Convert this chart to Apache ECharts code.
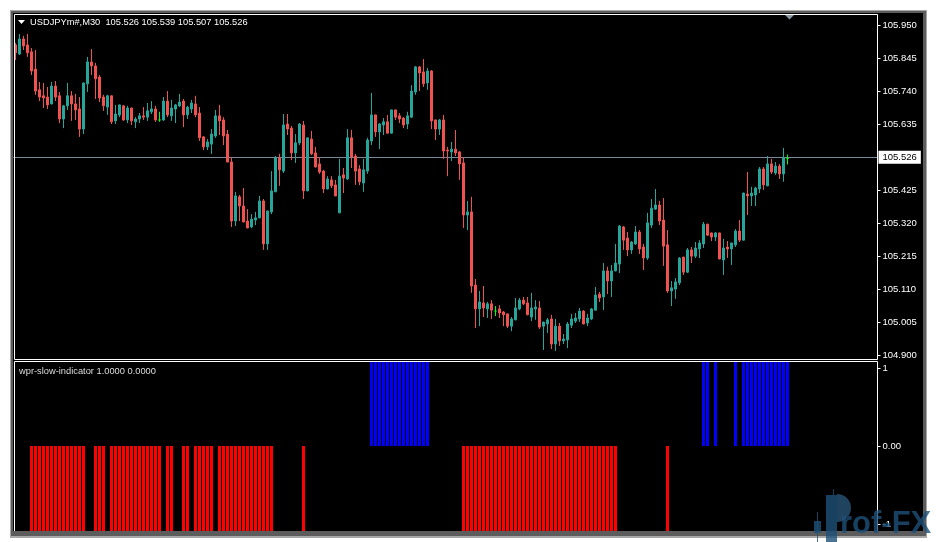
<!DOCTYPE html>
<html><head><meta charset="utf-8">
<script src="https://cdn.jsdelivr.net/npm/echarts@6/dist/echarts.min.js"></script>
<style>html,body{margin:0;padding:0;background:#fff}#c{width:936px;height:542px}</style>
</head><body><div id="c"></div>
<script>
const symbolName = 'USDJPYm#,M30';
const lastQuote = ['105.526', '105.539', '105.507', '105.526'];
const indicatorName = 'wpr-slow-indicator';
const indicatorValues = ['1.0000', '0.0000'];
const watermark = 'rof-FX';

const open = [
105.888,105.859,105.907,105.888,105.866,105.811,105.745,105.726,105.722,105.700,
105.757,105.726,105.652,105.694,105.726,105.700,105.684,105.620,105.764,105.834,
105.821,105.786,105.722,105.690,105.726,105.646,105.665,105.694,105.649,105.687,
105.643,105.652,105.662,105.658,105.675,105.684,105.649,105.649,105.709,105.662,
105.684,105.694,105.709,105.665,105.684,105.700,105.671,105.595,105.563,105.572,
105.598,105.662,105.649,105.604,105.515,105.327,105.404,105.375,105.327,105.308,
105.330,105.337,105.391,105.254,105.356,105.420,105.528,105.486,105.636,105.623,
105.544,105.576,105.633,105.423,105.588,105.544,105.509,105.486,105.429,105.458,
105.442,105.353,105.474,105.461,105.592,105.534,105.493,105.448,105.486,105.582,
105.665,105.611,105.633,105.643,105.607,105.681,105.662,105.655,105.636,105.658,
105.738,105.818,105.802,105.767,105.805,105.649,105.620,105.649,105.553,105.547,
105.556,105.547,105.512,105.346,105.356,105.123,105.047,105.066,105.047,105.063,
105.040,105.047,105.037,105.031,104.992,105.012,105.047,105.075,105.066,105.021,
105.047,105.050,104.992,104.999,105.015,104.935,104.992,104.945,104.948,104.995,
105.008,105.015,105.040,105.002,105.015,105.043,105.094,105.085,105.168,105.136,
105.168,105.190,105.308,105.273,105.235,105.254,105.292,105.244,105.209,105.314,
105.365,105.378,105.330,105.251,105.104,105.110,105.130,105.212,105.164,105.235,
105.215,105.238,105.254,105.317,105.289,105.276,105.289,105.203,105.244,105.238,
105.251,105.295,105.266,105.413,105.407,105.410,105.429,105.493,105.439,105.509,
105.480,105.502,105.477,105.526
];
const close = [
105.863,105.907,105.885,105.863,105.805,105.741,105.722,105.719,105.697,105.757,
105.722,105.652,105.694,105.726,105.700,105.681,105.620,105.767,105.834,105.821,
105.780,105.719,105.694,105.726,105.643,105.668,105.697,105.649,105.687,105.646,
105.652,105.662,105.658,105.678,105.684,105.649,105.649,105.709,105.665,105.687,
105.697,105.706,105.665,105.690,105.703,105.665,105.592,105.563,105.579,105.604,
105.662,105.646,105.598,105.515,105.327,105.407,105.375,105.324,105.305,105.333,
105.337,105.391,105.254,105.359,105.423,105.528,105.490,105.633,105.620,105.544,
105.576,105.636,105.423,105.592,105.541,105.499,105.483,105.429,105.461,105.439,
105.407,105.470,105.464,105.592,105.531,105.486,105.452,105.490,105.585,105.665,
105.611,105.636,105.643,105.607,105.681,105.658,105.652,105.633,105.662,105.741,
105.818,105.799,105.764,105.805,105.646,105.620,105.649,105.550,105.550,105.556,
105.544,105.509,105.346,105.356,105.120,105.047,105.069,105.050,105.063,105.043,
105.040,105.034,105.028,104.992,105.015,105.050,105.075,105.063,105.028,105.050,
105.053,104.989,105.005,105.012,104.935,104.992,104.945,104.951,104.999,105.015,
105.018,105.040,104.999,105.018,105.047,105.091,105.082,105.168,105.136,105.168,
105.193,105.311,105.266,105.235,105.260,105.292,105.238,105.209,105.321,105.368,
105.378,105.327,105.247,105.104,105.114,105.133,105.209,105.164,105.235,105.215,
105.241,105.257,105.317,105.282,105.276,105.289,105.206,105.241,105.238,105.257,
105.295,105.266,105.416,105.407,105.416,105.432,105.493,105.442,105.509,105.483,
105.502,105.477,105.528,105.526
];
const low = [
105.840,105.856,105.872,105.850,105.792,105.729,105.709,105.687,105.684,105.699,
105.709,105.639,105.623,105.681,105.646,105.649,105.595,105.604,105.738,105.792,
105.716,105.706,105.678,105.665,105.636,105.636,105.658,105.646,105.639,105.633,
105.623,105.639,105.649,105.646,105.668,105.643,105.643,105.646,105.658,105.646,
105.639,105.690,105.626,105.652,105.671,105.658,105.582,105.553,105.553,105.541,
105.592,105.601,105.569,105.514,105.308,105.311,105.327,105.323,105.304,105.304,
105.314,105.336,105.235,105.235,105.349,105.419,105.439,105.480,105.601,105.521,
105.512,105.569,105.397,105.422,105.537,105.498,105.477,105.416,105.428,105.432,
105.406,105.352,105.416,105.458,105.496,105.442,105.441,105.420,105.477,105.569,
105.595,105.556,105.601,105.606,105.606,105.649,105.639,105.623,105.620,105.655,
105.729,105.741,105.754,105.745,105.620,105.585,105.601,105.525,105.470,105.518,
105.534,105.458,105.305,105.298,105.098,104.986,104.992,105.021,105.018,105.015,
105.024,105.018,104.992,104.986,104.976,105.011,105.043,105.059,105.027,105.008,
105.012,104.983,104.916,104.970,104.919,104.913,104.929,104.935,104.922,104.986,
105.002,105.005,104.998,104.992,105.011,105.042,105.069,105.043,105.094,105.085,
105.167,105.161,105.235,105.215,105.222,105.251,105.222,105.171,105.203,105.305,
105.362,105.314,105.184,105.098,105.056,105.079,105.123,105.155,105.161,105.193,
105.209,105.209,105.241,105.279,105.263,105.263,105.205,105.155,105.209,105.187,
105.244,105.260,105.265,105.346,105.375,105.375,105.416,105.426,105.438,105.477,
105.474,105.461,105.452,105.507
];
const high = [
105.894,105.923,105.917,105.923,105.878,105.872,105.770,105.767,105.754,105.770,
105.773,105.738,105.697,105.767,105.741,105.732,105.722,105.768,105.850,105.875,
105.831,105.792,105.729,105.729,105.727,105.697,105.698,105.697,105.694,105.688,
105.658,105.671,105.690,105.703,105.709,105.694,105.675,105.722,105.741,105.713,
105.700,105.732,105.716,105.694,105.713,105.726,105.690,105.598,105.588,105.620,
105.681,105.697,105.658,105.617,105.531,105.420,105.410,105.432,105.365,105.349,
105.356,105.407,105.397,105.360,105.486,105.534,105.541,105.668,105.668,105.630,
105.604,105.639,105.646,105.593,105.614,105.563,105.531,105.490,105.470,105.470,
105.458,105.525,105.496,105.620,105.617,105.541,105.505,105.525,105.592,105.735,
105.666,105.639,105.655,105.665,105.682,105.682,105.671,105.658,105.675,105.760,
105.821,105.821,105.843,105.815,105.808,105.650,105.652,105.665,105.563,105.579,
105.617,105.550,105.531,105.391,105.404,105.142,105.104,105.120,105.069,105.075,
105.056,105.059,105.040,105.032,105.021,105.082,105.082,105.085,105.085,105.098,
105.075,105.072,105.006,105.018,105.028,105.015,105.002,104.967,105.005,105.031,
105.034,105.050,105.043,105.031,105.050,105.117,105.101,105.193,105.181,105.187,
105.254,105.314,105.311,105.292,105.263,105.311,105.298,105.254,105.353,105.397,
105.429,105.391,105.400,105.298,105.136,105.145,105.212,105.213,105.241,105.244,
105.260,105.266,105.324,105.318,105.290,105.292,105.290,105.270,105.263,105.258,
105.301,105.330,105.417,105.483,105.436,105.436,105.499,105.499,105.534,105.525,
105.515,105.509,105.560,105.539
];
// wpr-slow-indicator histogram: 1 = blue (up), -1 = red (down), 0 = none
const signal = [
0,0,0,0,-1,-1,-1,-1,-1,-1,
-1,-1,-1,-1,-1,-1,-1,-1,0,0,
-1,-1,-1,0,-1,-1,-1,-1,-1,-1,
-1,-1,-1,-1,-1,-1,-1,0,-1,-1,
0,0,-1,-1,0,-1,-1,-1,-1,-1,
0,-1,-1,-1,-1,-1,-1,-1,-1,-1,
-1,-1,-1,-1,-1,0,0,0,0,0,
0,0,-1,0,0,0,0,0,0,0,
0,0,0,0,0,0,0,0,0,1,
1,1,1,1,1,1,1,1,1,1,
1,1,1,1,0,0,0,0,0,0,
0,0,-1,-1,-1,-1,-1,-1,-1,-1,
-1,-1,-1,-1,-1,-1,-1,-1,-1,-1,
-1,-1,-1,-1,-1,-1,-1,-1,-1,-1,
-1,-1,-1,-1,-1,-1,-1,-1,-1,-1,
-1,0,0,0,0,0,0,0,0,0,
0,0,0,-1,0,0,0,0,0,0,
0,0,1,1,0,1,0,0,0,0,
1,0,1,1,1,1,1,1,1,1,
1,1,1,1
];
const priceTicks = [104.900, 105.005, 105.110, 105.215, 105.320, 105.425, 105.635, 105.740, 105.845, 105.950];
const signalTicks = [-1, 0, 1];
const emptySlots = 22;

const FONT = 'Liberation Sans';
const N = open.length;
const cats = Array.from({length: N + emptySlots}, (_, i) => String(i));
const candleData = open.map((o, i) => [o, close[i], low[i], high[i]]);
const lastClose = close[N - 1];
const redBars = signal.map(v => v < 0 ? v : '-');
const blueBars = signal.map(v => v > 0 ? v : '-');
const WM = 'rgba(30,80,120,0.8)';

const chart = echarts.init(document.getElementById('c'), null, {renderer: 'canvas'});
const option = {
  animation: false,
  backgroundColor: '#ffffff',
  textStyle: {fontFamily: FONT},
  grid: [
    {left: 13.5, width: 864, top: 14, height: 345, show: false},
    {left: 13.5, width: 864, top: 361, height: 170, show: false}
  ],
  xAxis: [
    {type: 'category', gridIndex: 0, data: cats, boundaryGap: true, show: false},
    {type: 'category', gridIndex: 1, data: cats, boundaryGap: true, show: false}
  ],
  yAxis: [
    {
      type: 'value', gridIndex: 0, position: 'right', min: 104.8873, max: 105.9866,
      splitLine: {show: false}, axisLine: {show: false},
      axisTick: {show: true, customValues: priceTicks, length: 3, lineStyle: {color: '#ffffff'}},
      axisLabel: {customValues: priceTicks, formatter: v => Number(v).toFixed(3), color: '#ffffff', fontSize: 9.5, fontFamily: FONT, margin: 5}
    },
    {type: 'value', gridIndex: 1, position: 'right', min: -1, max: 1, show: false},
    {
      type: 'value', gridIndex: 1, position: 'right', min: -1.09, max: 1.09,
      splitLine: {show: false}, axisLine: {show: false},
      axisTick: {show: true, customValues: signalTicks, length: 3, lineStyle: {color: '#ffffff'}},
      axisLabel: {customValues: signalTicks, formatter: v => (Number(v) === 0 ? '0.00' : String(Math.round(v))), color: '#ffffff', fontSize: 9.5, fontFamily: FONT, margin: 5}
    }
  ],
  series: [
    {
      type: 'candlestick', xAxisIndex: 0, yAxisIndex: 0, data: candleData, barWidth: 2,
      itemStyle: {color: '#26a69a', color0: '#ef5350', borderColor: '#26a69a', borderColor0: '#ef5350', borderColorDoji: '#00ff00', borderWidth: 1},
      z: 5,
      markLine: {
        silent: true, symbol: ['none', 'none'], animation: false,
        data: [{yAxis: lastClose}],
        lineStyle: {color: '#7a8a9a', width: 1, type: 'solid'},
        label: {show: true, position: 'end', formatter: () => lastClose.toFixed(3), backgroundColor: '#ffffff', color: '#000000', fontSize: 9.5, fontFamily: FONT, padding: [2, 4, 1, 4], distance: 1},
        emphasis: {disabled: true}
      }
    },
    {type: 'bar', xAxisIndex: 1, yAxisIndex: 1, data: redBars, barWidth: 3, barGap: '-100%', itemStyle: {color: '#ff0000'}},
    {type: 'bar', xAxisIndex: 1, yAxisIndex: 1, data: blueBars, barWidth: 3, barGap: '-100%', itemStyle: {color: '#0000ff'}}
  ],
  graphic: [
    {type: 'rect', z: -10, silent: true, shape: {x: 10, y: 10, width: 917, height: 528}, style: {fill: '#a8a8a8'}},
    {type: 'rect', z: -9, silent: true, shape: {x: 11, y: 11, width: 915, height: 525}, style: {fill: '#5c5c5c'}},
    {type: 'rect', z: -8, silent: true, shape: {x: 13, y: 13, width: 910, height: 518}, style: {fill: '#000000'}},
    {type: 'rect', z: 50, silent: true, shape: {x: 14.5, y: 14.5, width: 863, height: 345}, style: {fill: 'none', stroke: '#ffffff', lineWidth: 1}},
    {type: 'polyline', z: 50, silent: true, shape: {points: [[14.5, 531], [14.5, 361.5], [877.5, 361.5], [877.5, 531]]}, style: {fill: 'none', stroke: '#ffffff', lineWidth: 1}},
    {type: 'polygon', z: 50, silent: true, shape: {points: [[18, 20], [25, 20], [21.5, 24]]}, style: {fill: '#ffffff'}},
    {type: 'text', z: 50, silent: true, x: 30, y: 22, style: {text: symbolName + '  ' + lastQuote.join(' '), fill: '#ffffff', font: '9.3px "Liberation Sans"', verticalAlign: 'middle'}},
    {type: 'polygon', z: 50, silent: true, shape: {points: [[785, 15], [794, 15], [789.5, 19.5]]}, style: {fill: '#8796a6'}},
    {type: 'text', z: 50, silent: true, x: 19, y: 371, style: {text: indicatorName + ' ' + indicatorValues.join(' '), fill: '#dcdcdc', font: '9.3px "Liberation Sans"', verticalAlign: 'middle'}},
    {type: 'rect', z: 60, silent: true, shape: {x: 826, y: 495, width: 11, height: 47}, style: {fill: WM}},
    {type: 'sector', z: 60, silent: true, shape: {cx: 837, cy: 508, r0: 0, r: 14, startAngle: -Math.PI / 2, endAngle: Math.PI / 2}, style: {fill: 'rgba(45,95,135,0.7)'}},
    {type: 'line', z: 60, silent: true, shape: {x1: 817.5, y1: 512, x2: 817.5, y2: 542}, style: {stroke: WM, lineWidth: 1}},
    {type: 'rect', z: 60, silent: true, shape: {x: 814, y: 521, width: 7, height: 12}, style: {fill: WM}},
    {type: 'line', z: 60, silent: true, shape: {x1: 833.5, y1: 489, x2: 833.5, y2: 495}, style: {stroke: WM, lineWidth: 1}},
    {type: 'text', z: 60, silent: true, x: 840, y: 540, style: {text: watermark, fill: WM, font: 'bold 31px "Liberation Sans"', verticalAlign: 'bottom'}}
  ]
};
chart.setOption(option);
</script>
</body></html>
